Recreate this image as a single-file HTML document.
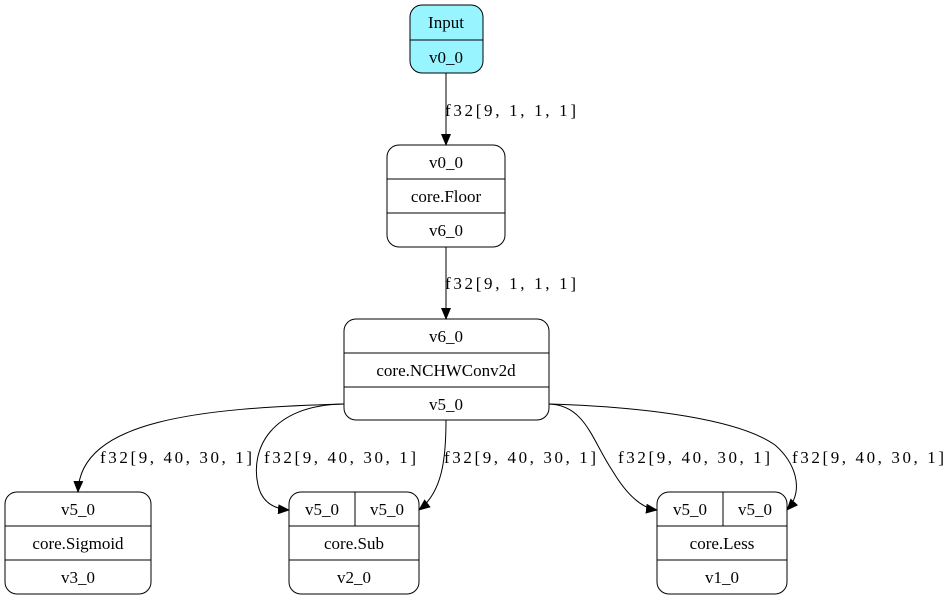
<!DOCTYPE html>
<html><head><meta charset="utf-8"><style>
html,body{margin:0;padding:0;background:#fff;}
svg{display:block;}
text{font-family:"Liberation Serif",serif;font-size:17px;fill:#000;}
</style></head><body>
<svg width="952" height="601" viewBox="0 0 952 601" xmlns="http://www.w3.org/2000/svg">
<defs><marker id="a" markerWidth="12" markerHeight="10" refX="11" refY="5" orient="auto" markerUnits="userSpaceOnUse"><path d="M0,0 L12,5 L0,10 z" fill="#000"/></marker></defs>
<g fill="none" stroke="#000" stroke-width="1">
<rect x="410" y="5" width="73" height="68" rx="12" fill="#98f5ff"/>
<line x1="410" y1="40" x2="483" y2="40"/>
<rect x="387" y="145" width="118" height="102" rx="12" fill="#fff"/>
<line x1="387" y1="179" x2="505" y2="179"/><line x1="387" y1="213" x2="505" y2="213"/>
<rect x="344" y="319" width="205" height="101" rx="12" fill="#fff"/>
<line x1="344" y1="353" x2="549" y2="353"/><line x1="344" y1="387" x2="549" y2="387"/>
<rect x="5" y="492" width="146" height="102" rx="12" fill="#fff"/>
<line x1="5" y1="526" x2="151" y2="526"/><line x1="5" y1="560" x2="151" y2="560"/>
<rect x="289" y="492" width="130" height="102" rx="12" fill="#fff"/>
<line x1="289" y1="526" x2="419" y2="526"/><line x1="289" y1="560" x2="419" y2="560"/><line x1="355" y1="492" x2="355" y2="526"/>
<rect x="657" y="492" width="130" height="102" rx="12" fill="#fff"/>
<line x1="657" y1="526" x2="787" y2="526"/><line x1="657" y1="560" x2="787" y2="560"/><line x1="723" y1="492" x2="723" y2="526"/>
<path d="M446,73 L446,145" marker-end="url(#a)"/>
<path d="M446,247 L446,319" marker-end="url(#a)"/>
<path d="M344,404 C200,408 80,420 78,492" marker-end="url(#a)"/>
<path d="M344,404 C270,405 250,450 258,485 C262,503 275,509 289,510" marker-end="url(#a)"/>
<path d="M446,420 C446,460 442,492 419,510" marker-end="url(#a)"/>
<path d="M549,404 C585,405 592,440 612,470 C625,492 640,508 657,510" marker-end="url(#a)"/>
<path d="M549,404 C650,407 740,420 775,445 C795,462 805,490 787,510" marker-end="url(#a)"/>
</g>
<g text-anchor="middle">
<text x="446" y="28">Input</text><text x="446" y="63">v0_0</text>
<text x="446" y="168">v0_0</text><text x="446" y="202">core.Floor</text><text x="446" y="236">v6_0</text>
<text x="446" y="342">v6_0</text><text x="446" y="376">core.NCHWConv2d</text><text x="446" y="410">v5_0</text>
<text x="78" y="515">v5_0</text><text x="78" y="549">core.Sigmoid</text><text x="78" y="583">v3_0</text>
<text x="322" y="515">v5_0</text><text x="387" y="515">v5_0</text><text x="354" y="549">core.Sub</text><text x="354" y="583">v2_0</text>
<text x="690" y="515">v5_0</text><text x="755" y="515">v5_0</text><text x="722" y="549">core.Less</text><text x="722" y="583">v1_0</text>
</g>
<text x="445" y="116" textLength="131" lengthAdjust="spacing">f32[9, 1, 1, 1]</text>
<text x="445" y="289" textLength="131" lengthAdjust="spacing">f32[9, 1, 1, 1]</text>
<text x="100" y="463" textLength="152" lengthAdjust="spacing">f32[9, 40, 30, 1]</text>
<text x="264" y="463" textLength="152" lengthAdjust="spacing">f32[9, 40, 30, 1]</text>
<text x="444" y="463" textLength="152" lengthAdjust="spacing">f32[9, 40, 30, 1]</text>
<text x="618" y="463" textLength="152" lengthAdjust="spacing">f32[9, 40, 30, 1]</text>
<text x="792" y="463" textLength="152" lengthAdjust="spacing">f32[9, 40, 30, 1]</text>
</svg>
</body></html>
